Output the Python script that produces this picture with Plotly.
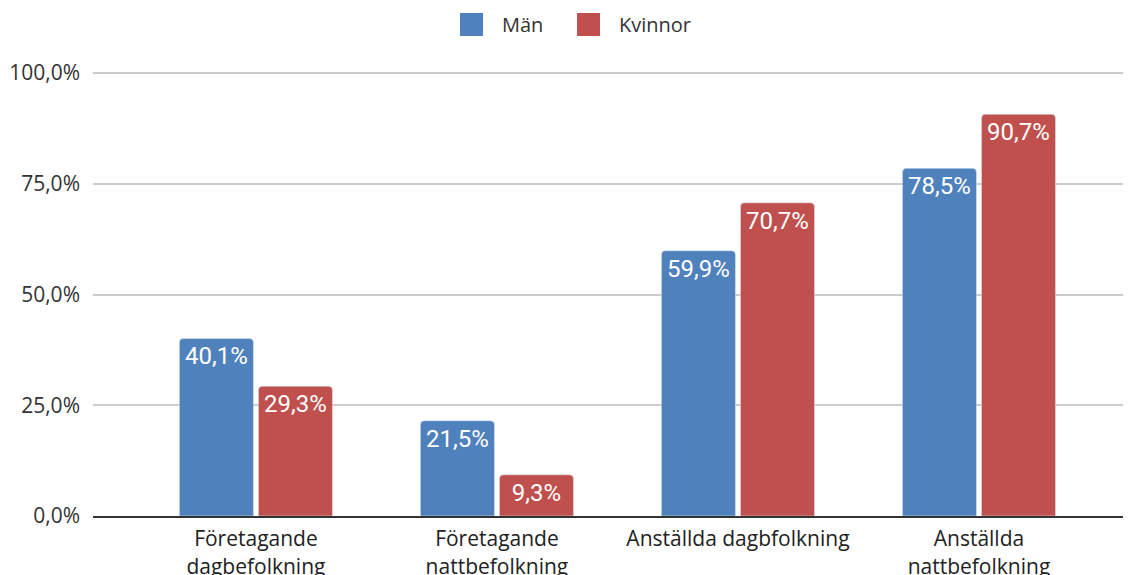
import plotly.graph_objects as go

# Categories and values (percent)
categories = ["Företagande<br>dagbefolkning", "Företagande<br>nattbefolkning",
              "Anställda dagbfolkning", "Anställda<br>nattbefolkning"]
man = [40.1, 21.5, 59.9, 78.5]
kvinnor = [29.3, 9.3, 70.7, 90.7]
series_names = ["Män", "Kvinnor"]
colors = ["#4f81bd", "#c0504d"]
y_ticks = [0, 25, 50, 75, 100]
y_ticklabels = ["0,0%", "25,0%", "50,0%", "75,0%", "100,0%"]

# page is drawn with an 8px body margin, so margins are shifted by that
W, H = 1131, 575
ML, MT, MB = 85, 64, 67
plot_w = W - ML
plot_h = H - MT - MB


def px_x(page_x):
    return (page_x - 8 - ML) / plot_w


def px_y(page_y):
    return (H - MB - (page_y - 8)) / plot_h


fig = go.Figure()
for name, vals, col in zip(series_names, [man, kvinnor], colors):
    fig.add_trace(go.Bar(
        x=categories, y=vals, name=name, showlegend=False,
        marker=dict(color=col, cornerradius=4),
        texttemplate="%{y:.1f}%", textposition="inside", insidetextanchor="end",
        textangle=0, constraintext="none",
        insidetextfont=dict(family="Roboto", size=24, color="white"),
    ))

# hand made legend with big squares
legend_x = [460, 577]
for name, col, lx in zip(series_names, colors, legend_x):
    fig.add_shape(type="rect", xref="paper", yref="paper",
                  x0=px_x(lx), x1=px_x(lx + 23), y0=px_y(36), y1=px_y(13),
                  fillcolor=col, line=dict(width=0))
    fig.add_annotation(text=name, xref="paper", yref="paper", showarrow=False,
                       x=px_x(lx + 40), y=px_y(24), xanchor="left", yanchor="middle",
                       font=dict(family="Open Sans", size=20, color="#333333"))

fig.update_layout(
    width=W, height=H,
    margin=dict(l=ML, r=0, t=MT, b=MB, autoexpand=False),
    plot_bgcolor="white", paper_bgcolor="white",
    barmode="group", bargap=0.344, bargroupgap=0.063,
    separators=", ",
    showlegend=False,
    font=dict(family="Open Sans", size=19, color="#333333"),
    xaxis=dict(range=[-0.676, 3.664], showline=True, linecolor="#333333",
               linewidth=2, ticks="", showgrid=False, automargin=False,
               ticklabelstandoff=3,
               tickfont=dict(family="Open Sans", size=21, color="#222222")),
    yaxis=dict(range=[0, 100.25], tickvals=y_ticks, ticktext=y_ticklabels,
               gridcolor="#cccccc", gridwidth=1.5, zeroline=False,
               ticklabelstandoff=12, automargin=False,
               tickfont=dict(family="Open Sans", size=21, color="#333333")),
)

fig.write_html("out.html")
